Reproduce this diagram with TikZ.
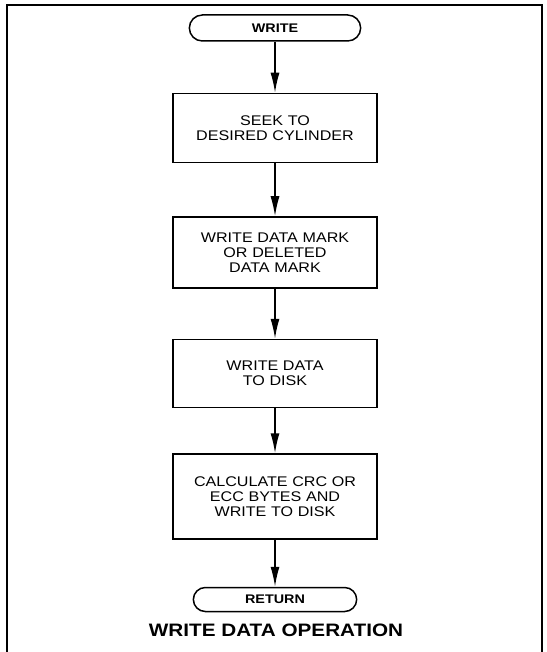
\documentclass[tikz,border=0pt]{standalone}
\usepackage{fontspec}
\setmainfont{Liberation Sans}[FakeStretch=1.15]
\usetikzlibrary{shapes.misc,arrows.meta,positioning}

\begin{document}
\begin{tikzpicture}
	[ x=1pt, y=-1pt,
	  term/.style={ draw, rounded rectangle, line width=1.5pt, minimum height=26pt,
	  font=\fontsize{12.5}{14}\selectfont\bfseries },
	  proc/.style={ draw, rectangle, line width=1.5pt, minimum width=204pt,
	  text width=190pt, align=center, font=\fontsize{14}{15}\selectfont },
	  arr/.style={ line width=1.5pt, -{Latex[length=20pt,width=9pt]} }
	]
	\useasboundingbox (0,0) rectangle (546,652);
	% frame, open at the bottom
	\draw[line width=2pt] (7,652) -- (7,5) -- (542,5) -- (542,652);

	\node[term, minimum width=178pt] (wr) at (275,28) {WRITE};
	\node[proc, minimum height=69pt, below=51pt of wr] (seek) {SEEK TO\\DESIRED CYLINDER};
	\node[proc, minimum height=71pt, below=53pt of seek] (mark) {WRITE DATA MARK\\OR DELETED\\DATA MARK};
	\node[proc, minimum height=68pt, below=50pt of mark] (data) {WRITE DATA\\TO DISK};
	\node[proc, minimum height=85pt, below=45pt of data] (crc) {CALCULATE CRC OR\\ECC BYTES AND\\WRITE TO DISK};
	\node[term, minimum width=170pt, minimum height=24pt, below=47pt of crc] (ret) {RETURN};
	\node[font=\fontsize{18}{20}\selectfont\bfseries] (cap) at (276,630) {WRITE DATA OPERATION};

	\foreach \a/\b in {wr/seek, seek/mark, mark/data, data/crc, crc/ret}{
		\draw[arr] (\a.south) -- (\b.north);
	}
\end{tikzpicture}
\end{document}
